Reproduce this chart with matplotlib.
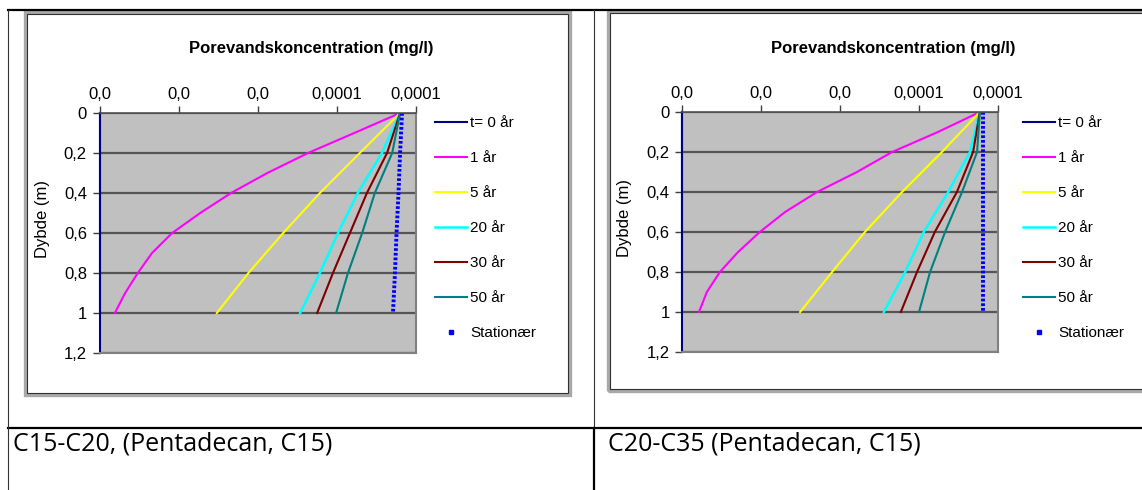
import matplotlib.pyplot as plt
import matplotlib.lines as mlines
import matplotlib.patches as mpatches

W, H = 1142, 490

# depth (m)
depth_fine = [0, 0.1, 0.2, 0.3, 0.4, 0.5, 0.6, 0.7, 0.8, 0.9, 1.0]
depth_coarse = [0, 0.2, 0.4, 0.6, 0.8, 1.0]

# concentrations, in units of 1e-5 mg/l
# C15-C20
t0_L = [0, 0, 0, 0, 0, 0]
yr1_L = [7.61, 6.45, 5.28, 4.25, 3.33, 2.55, 1.84, 1.33, 0.97, 0.65, 0.39]
yr5_L = [7.61, 6.59, 5.58, 4.65, 3.77, 2.97]
yr20_L = [7.61, 7.15, 6.54, 6.04, 5.58, 5.08]
yr30_L = [7.61, 7.28, 6.77, 6.34, 5.91, 5.51]
yr50_L = [7.61, 7.41, 6.97, 6.65, 6.29, 5.99]
stat_L = [7.66, 7.61, 7.57, 7.52, 7.48, 7.43]

# C20-C35
t0_R = [0, 0, 0, 0, 0, 0]
yr1_R = [7.54, 6.48, 5.32, 4.43, 3.42, 2.61, 1.97, 1.42, 0.96, 0.63, 0.43]
yr5_R = [7.54, 6.58, 5.57, 4.63, 3.80, 2.99]
yr20_R = [7.54, 7.29, 6.74, 6.12, 5.65, 5.11]
yr30_R = [7.54, 7.37, 6.96, 6.40, 5.95, 5.54]
yr50_R = [7.54, 7.47, 7.09, 6.66, 6.28, 6.00]
stat_R = [7.62, 7.62, 7.62, 7.62, 7.62, 7.62]

series_names = ['t= 0 år', '1 år', '5 år', '20 år', '30 år', '50 år', 'Stationær']
series_colors = ['#000080', '#ff00ff', '#ffff00', '#00ffff', '#800000', '#008080', '#0000ff']

x_ticks = [0, 2, 4, 6, 8]
x_ticklabels = ['0,0', '0,0', '0,0', '0,0001', '0,0001']
y_ticks = [0, 0.2, 0.4, 0.6, 0.8, 1.0, 1.2]
y_ticklabels = ['0', '0,2', '0,4', '0,6', '0,8', '1', '1,2']

captions = ['C15-C20, (Pentadecan, C15)', 'C20-C35 (Pentadecan, C15)']

plt.rcParams['font.family'] = ['Liberation Sans', 'DejaVu Sans']


def fx(x):
    return x / W


def fy(y):
    return 1 - y / H


fig = plt.figure(figsize=(W / 100, H / 100), dpi=100)


def chart(left, top, frame, title_x, leg_x, data):
    # chart frame (grey shadow + dark line)
    fl, ft, fr, fb = frame
    fig.add_artist(mpatches.Rectangle((fx(fl - 2), fy(fb + 2)), (fr - fl + 4) / W, (fb - ft + 4) / H,
                                      transform=fig.transFigure, fill=False, edgecolor='#a8a8a8', lw=2.4))
    fig.add_artist(mpatches.Rectangle((fx(fl), fy(fb)), (fr - fl) / W, (fb - ft) / H,
                                      transform=fig.transFigure, fill=False, edgecolor='#303030', lw=0.8))

    ax = fig.add_axes([fx(left), fy(top + 240), 316 / W, 240 / H])
    ax.set_facecolor('#c0c0c0')
    ax.set_xlim(0, 8)
    ax.set_ylim(1.2, 0)
    ax.xaxis.tick_top()
    ax.set_xticks(x_ticks, x_ticklabels)
    ax.set_yticks(y_ticks, y_ticklabels)
    ax.tick_params(axis='both', direction='out', length=5, width=1, color='#404040', labelsize=12)
    ax.tick_params(axis='x', pad=3)
    ax.tick_params(axis='y', pad=4)
    ax.grid(axis='y', color='#555555', lw=1.6)
    ax.set_axisbelow(True)
    for s in ['right', 'bottom']:
        ax.spines[s].set_color('#808080')
        ax.spines[s].set_linewidth(1.5)
    ax.spines['top'].set_color('#505050')
    ax.spines['top'].set_linewidth(1.2)
    ax.spines['left'].set_color('#000080')
    ax.spines['left'].set_linewidth(1.5)

    t0, yr1, yr5, yr20, yr30, yr50, stat = data
    handles = []
    handles.append(ax.plot(t0, depth_coarse, color=series_colors[0], lw=1.5, clip_on=False)[0])
    handles.append(ax.plot(yr1, depth_fine, color=series_colors[1], lw=1.5)[0])
    handles.append(ax.plot(yr5, depth_coarse, color=series_colors[2], lw=1.5)[0])
    handles.append(ax.plot(yr20, depth_coarse, color=series_colors[3], lw=1.8)[0])
    handles.append(ax.plot(yr30, depth_coarse, color=series_colors[4], lw=1.5)[0])
    handles.append(ax.plot(yr50, depth_coarse, color=series_colors[5], lw=1.5)[0])
    ax.plot(stat, depth_coarse, color=series_colors[6], lw=2.8, linestyle=(0, (0.7, 0.5)))
    handles.append(mlines.Line2D([], [], color=series_colors[6], marker='s', markersize=2.6, linestyle='none'))

    ax.set_ylabel('Dybde (m)', fontsize=12)
    ax.yaxis.set_label_coords(-50 / 316, 0.56)

    fig.text(fx(title_x), fy(48), 'Porevandskoncentration (mg/l)', fontsize=12, fontweight='bold',
             ha='center', va='center')

    ax.legend(handles, series_names, loc='upper left', bbox_to_anchor=(fx(leg_x), fy(116)),
              bbox_transform=fig.transFigure, frameon=False, fontsize=11, borderpad=0, borderaxespad=0,
              handlelength=2.1, handletextpad=0.2, labelspacing=1.38, numpoints=1)
    return ax


chart(99.5, 113, (27, 14, 568, 393), 311, 435, [t0_L, yr1_L, yr5_L, yr20_L, yr30_L, yr50_L, stat_L])
chart(682, 112, (610, 13, 1160, 389), 893, 1023, [t0_R, yr1_R, yr5_R, yr20_R, yr30_R, yr50_R, stat_R])


# table borders
def hline(y, x0, x1, lw, color='black'):
    fig.add_artist(mlines.Line2D([fx(x0), fx(x1)], [fy(y), fy(y)], transform=fig.transFigure, color=color, lw=lw))


def vline(x, y0, y1, lw, color='black'):
    fig.add_artist(mlines.Line2D([fx(x), fx(x)], [fy(y0), fy(y1)], transform=fig.transFigure, color=color, lw=lw))


hline(10, 8, W, 1.6)
hline(428, 8, W, 1.6)
vline(8, 10, H, 0.8, '#333333')
vline(594, 10, 428, 0.8, '#333333')
vline(594, 428, H, 1.6)

fig.text(fx(13), fy(444), captions[0], fontsize=18, family=['Open Sans', 'DejaVu Sans'], ha='left', va='center')
fig.text(fx(608), fy(444), captions[1], fontsize=18, family=['Open Sans', 'DejaVu Sans'], ha='left', va='center')

fig.savefig('out.png', dpi=100)
